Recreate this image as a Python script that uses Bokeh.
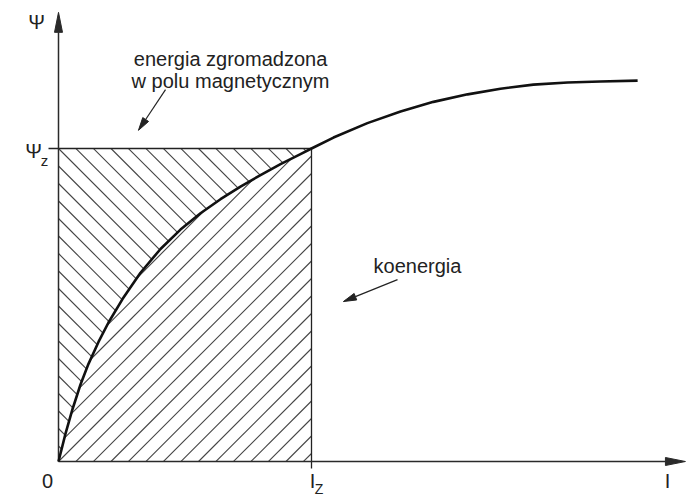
import numpy as np
from bokeh.plotting import figure
from bokeh.models import Label
from bokeh.embed import file_html
from bokeh.resources import INLINE

# --- data ---
I_curve = [0.0, 0.0277, 0.0553, 0.0870, 0.1186, 0.1581, 0.1976, 0.2530, 0.3241,
           0.4032, 0.4822, 0.5613, 0.6403, 0.7194, 0.7984, 0.8775, 0.9565, 1.0,
           1.087, 1.221, 1.352, 1.482, 1.617, 1.747, 1.877, 2.012, 2.142, 2.289]
psi_curve = [0.0, 0.089, 0.167, 0.246, 0.312, 0.382, 0.444, 0.519, 0.603,
             0.679, 0.741, 0.793, 0.838, 0.878, 0.915, 0.950, 0.982, 1.0,
             1.035, 1.081, 1.118, 1.149, 1.173, 1.191, 1.204, 1.211, 1.214, 1.217]
I_Z = 1.0
PSI_Z = 1.0
I_AXIS_MAX = 2.478
PSI_AXIS_MAX = 1.435

axis_labels = ["\u03a8", "I", "0"]
label_text = ["energia zgromadzona", "w polu magnetycznym", "koenergia"]

# --- layout ---
W, H = 700, 504
X0, X1 = -58 / 253, 642 / 253
Y0, Y1 = -43 / 313, 461 / 313
sx = W / (X1 - X0)
sy = H / (Y1 - Y0)
FONT = "Liberation Sans"
TXT = "#222222"
HATCH_STEP = 17.5  # px, horizontal spacing of hatch lines

p = figure(width=W, height=H, x_range=(X0, X1), y_range=(Y0, Y1),
           output_backend="svg", toolbar_location=None,
           x_axis_location=None, y_axis_location=None,
           min_border=0, outline_line_color=None)
p.grid.visible = False

# --- hatching (45 deg lines clipped to the two areas, computed in pixel space) ---
Uz, Vz = I_Z * sx, PSI_Z * sy
cu = np.array(I_curve) * sx
cv = np.array(psi_curve) * sy
uu = np.linspace(0, Uz, 4000)
fu = np.interp(uu, cu, cv)


def clip_segments(lines_v, mask_fn):
    xs, ys = [], []
    for vline in lines_v:
        m = mask_fn(vline)
        idx = np.nonzero(m)[0]
        if len(idx) < 2:
            continue
        a, b = idx[0], idx[-1]
        xs.append([uu[a] / sx, uu[b] / sx])
        ys.append([vline[a] / sy, vline[b] / sy])
    return xs, ys


# above curve: "\" lines v = c - u
cs_a = Vz + HATCH_STEP * np.arange(-60, 60)
lines_a = [c - uu for c in cs_a]
xa, ya = clip_segments(lines_a, lambda v: (v >= fu) & (v <= Vz + 1e-9))
# below curve: "/" lines v = u - c
cs_b = HATCH_STEP * np.arange(-60, 60)
lines_b = [uu - c for c in cs_b]
xb, yb = clip_segments(lines_b, lambda v: (v <= fu) & (v >= -1e-9))

p.multi_line(xa + xb, ya + yb, line_color="#444444", line_width=1.1)

# rectangle lines
p.line([-10 / sx, I_Z], [PSI_Z, PSI_Z], line_color="#222222", line_width=1.3)
p.line([I_Z, I_Z], [PSI_Z, -7 / sy], line_color="#222222", line_width=1.3)


def arrow(xf, yf, xt, yt, L, Wd, color, lw):
    dx = (xt - xf) * sx
    dy = (yt - yf) * sy
    n = np.hypot(dx, dy)
    ux, uy = dx / n, dy / n
    bx = xt - L * ux / sx
    by = yt - L * uy / sy
    px_, py_ = -uy, ux
    hx = [xt, bx + Wd / 2 * px_ / sx, bx - Wd / 2 * px_ / sx]
    hy = [yt, by + Wd / 2 * py_ / sy, by - Wd / 2 * py_ / sy]
    p.line([xf, bx], [yf, by], line_color=color, line_width=lw)
    p.patch(hx, hy, fill_color=color, line_color=color, line_width=1)


# axes
arrow(0, 0, 0, PSI_AXIS_MAX, 20, 8, "#2a2a2a", 1.5)
arrow(0, 0, I_AXIS_MAX, 0, 20, 8, "#2a2a2a", 1.5)

# curve
p.line(I_curve, psi_curve, line_color="#111111", line_width=2.6, line_join="round")

# annotation arrows
arrow(0.423, 1.188, 0.316, 1.058, 13, 7, "#222222", 1.2)
arrow(1.340, 0.581, 1.126, 0.511, 13, 7, "#222222", 1.2)


def lab(x, y, t, size="20px", align="center", base="middle"):
    p.add_layout(Label(x=x, y=y, text=t, text_font=FONT, text_font_size=size,
                       text_color=TXT, text_align=align, text_baseline=base))


lab(-22 / sx, PSI_AXIS_MAX - 10 / sy, axis_labels[0])
lab(-25 / sx, PSI_Z - 2 / sy, "\u03a8")
lab(-14 / sx, PSI_Z - 12 / sy, "z", size="15px")
lab(-11 / sx, -19 / sy, axis_labels[2])
lab(I_Z + 1 / sx, -19 / sy, "I")
lab(I_Z + 7.5 / sx, -27 / sy, "Z", size="14px")
lab(I_AXIS_MAX - 18 / sx, -19 / sy, axis_labels[1])

lab(0.680, 1.2875, label_text[0], base="alphabetic")
lab(0.680, 1.217, label_text[1], base="alphabetic")
lab(1.419, 0.626, label_text[2], base="alphabetic")

open("out.html", "w").write(file_html(p, INLINE))
